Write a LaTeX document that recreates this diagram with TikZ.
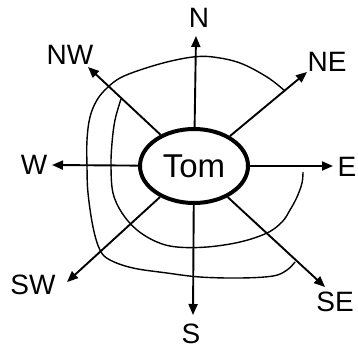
\documentclass[tikz,border=0pt]{standalone}
\usepackage{fontspec}
\setmainfont{Liberation Sans}
\usetikzlibrary{positioning, arrows.meta, shapes.geometric}

\begin{document}
\begin{tikzpicture}[
    x=1pt, y=-1pt, % pixel-like units, y going down
    every node/.style={font=\fontsize{28}{32}\selectfont, inner sep=0pt},
    dir/.style={-{Triangle[length=11pt,width=9pt]}, line width=1.9pt},
    path/.style={line width=1.4pt, line join=round}
]
    \useasboundingbox (0,0) rectangle (358,351);

    % Tom in the middle
    \node (tom) [ellipse, draw, line width=4pt, minimum width=108pt,
        minimum height=74pt, font=\fontsize{33}{38}\selectfont] at (194,166) {Tom};

    % Arrow tips
    \coordinate (ntip) at (196,36);
    \coordinate (stip) at (193,315);
    \coordinate (etip) at (333,166);
    \coordinate (wtip) at (52,165);
    \coordinate (netip) at (307,72);
    \coordinate (nwtip) at (88,67);
    \coordinate (swtip) at (67,282);
    \coordinate (setip) at (325,287);

    % Labels
    \node (nlab) at (199,18) {N};
    \node (slab) at (191,334) {S};
    \node (elab) at (347,167) {E};
    \node (wlab) at (34,165) {W};
    \node (nelab) at (327,62) {NE};
    \node (nwlab) at (70,55) {NW};
    \node (swlab) at (33,285) {SW};
    \node (selab) at (335,302) {SE};

    % Directions
    \draw [dir] (tom) -- (ntip);
    \draw [dir] (tom) -- (stip);
    \draw [dir] (tom) -- (etip);
    \draw [dir] (tom) -- (wtip);
    \draw [dir] (tom) -- (netip);
    \draw [dir] (tom) -- (nwtip);
    \draw [dir] (tom) -- (swtip);
    \draw [dir] (tom) -- (setip);

    % Hand drawn paths round Tom
    \draw [path] plot[smooth, tension=0.6] coordinates {
        (285,91) (267,77) (240,63) (213,57) (193,57) (167,62) (140,70)
        (120,78) (107,88) (97,100) (90,117) (87,140) (87,167) (88,193)
        (93,227) (100,250) (110,260) (133,268) (167,273) (200,277)
        (240,278) (273,276) (287,270) (295,262)};
    \draw [path] plot[smooth, tension=0.6] coordinates {
        (121,99) (115,120) (112,143) (111,167) (113,193) (122,213)
        (137,230) (157,242) (177,247) (207,247) (240,242) (267,233)
        (282,222) (290,210) (297,197) (302,183) (303,172)};
\end{tikzpicture}
\end{document}
